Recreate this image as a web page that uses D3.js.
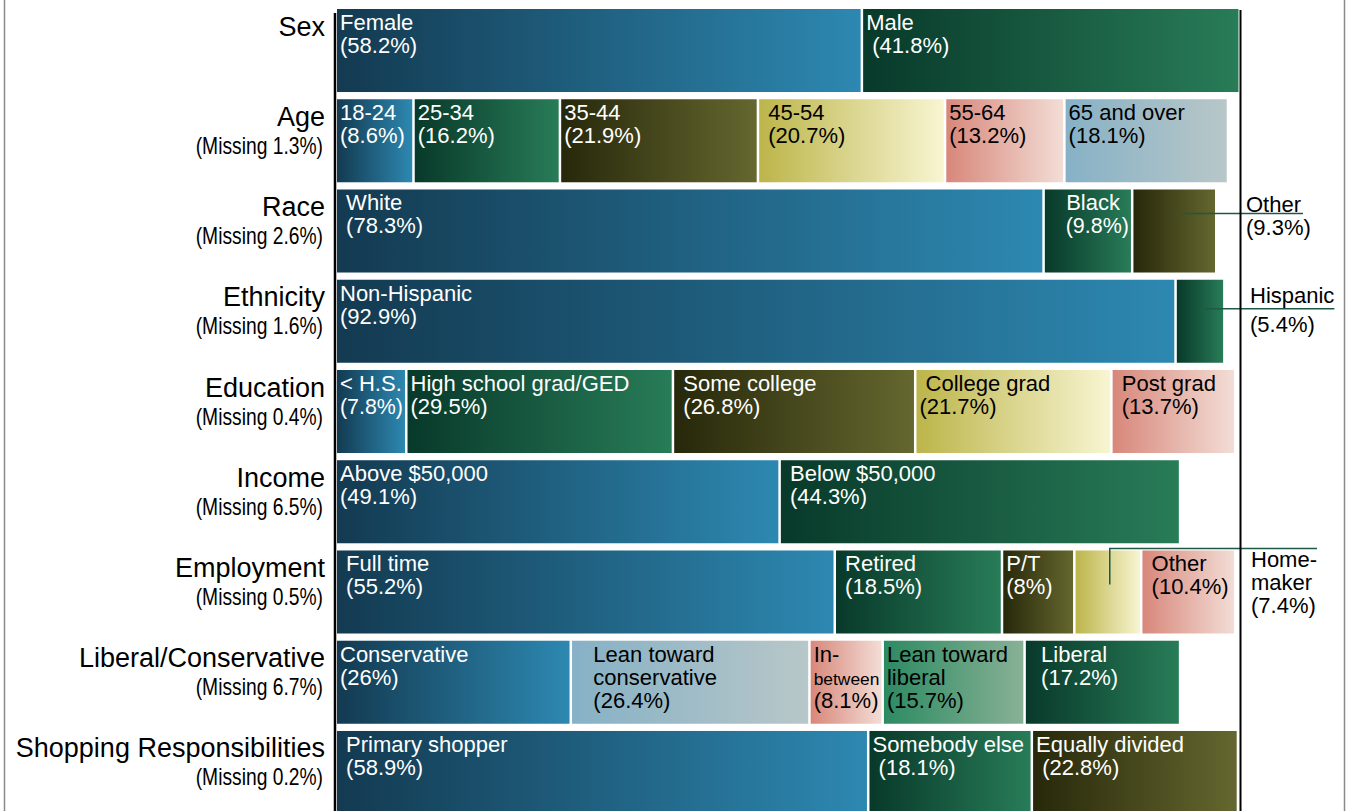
<!DOCTYPE html>
<html>
<head>
<meta charset="utf-8">
<script src="https://cdn.jsdelivr.net/npm/d3@7"></script>
<style>
  html, body { margin: 0; padding: 0; background: #fff; }
  svg { display: block; }
  text { white-space: pre; }
</style>
</head>
<body>
<svg id="chart" width="1348" height="811"></svg>
<script>
// ---------------- DATA ----------------
const categories = ["Sex", "Age", "Race", "Ethnicity", "Education", "Income",
  "Employment", "Liberal/Conservative", "Shopping Responsibilities"];
const missingPct = [null, 1.3, 2.6, 1.6, 0.4, 6.5, 0.5, 6.7, 0.2];

// segment names ("|" separates lines, leading spaces are part of the label text)
const segNames = [
  ["Female", "Male"],
  ["18-24", "25-34", "35-44", " 45-54", "55-64", "65 and over"],
  [" White", "   Black", "Other"],
  ["Non-Hispanic", "Hispanic"],
  ["< H.S.", "High school grad/GED", " Some college", " College grad", " Post grad"],
  ["Above $50,000", " Below $50,000"],
  [" Full time", " Retired", "P/T", "Home-|maker", " Other"],
  ["Conservative", "   Lean toward|   conservative", "In-|between", "Lean toward|liberal", "  Liberal"],
  [" Primary shopper", "Somebody else", "Equally divided"]
];
const segValues = [
  [58.2, 41.8],
  [8.6, 16.2, 21.9, 20.7, 13.2, 18.1],
  [78.3, 9.8, 9.3],
  [92.9, 5.4],
  [7.8, 29.5, 26.8, 21.7, 13.7],
  [49.1, 44.3],
  [55.2, 18.5, 8, 7.4, 10.4],
  [26, 26.4, 8.1, 15.7, 17.2],
  [58.9, 18.1, 22.8]
];
// indentation (in spaces) of the percentage line
const pctIndent = [
  [0, 1],
  [0, 0, 0, 1, 0, 0],
  [1, 3, 0],
  [0, 0],
  [0, 0, 1, 0, 1],
  [0, 1],
  [1, 1, 0, 0, 1],
  [0, 3, 0, 0, 2],
  [1, 1, 1]
];
// labels placed outside the bar with a leader line
const callouts = [
  { row: "Race", seg: "Other", kind: "under" },
  { row: "Ethnicity", seg: "Hispanic", kind: "between" },
  { row: "Employment", seg: "Home-|maker", kind: "elbow" }
];

// ---------------- STYLE ----------------
const palette = {
  B:  ["#133a51", "#2d88b1", "#fff"],
  G:  ["#08392a", "#287c58", "#fff"],
  O:  ["#27280a", "#65672f", "#fff"],
  Y:  ["#bcb54a", "#f8f5d2", "#000"],
  P:  ["#d8877a", "#f2ddd6", "#000"],
  L:  ["#86b1c6", "#b8c7c8", "#000"],
  LG: ["#2c8a62", "#88b196", "#000"]
};
const segFill = [
  ["B", "G"],
  ["B", "G", "O", "Y", "P", "L"],
  ["B", "G", "O"],
  ["B", "G"],
  ["B", "G", "O", "Y", "P"],
  ["B", "G"],
  ["B", "G", "O", "Y", "P"],
  ["B", "L", "P", "LG", "G"],
  ["B", "G", "O"]
];

const FONT = "'Liberation Sans', Arial, Helvetica, sans-serif";
const SEG_FS = 22;

// ---------------- CHART ----------------
const svg = d3.select("#chart");
const W = 1348, H = 811;

const x = d3.scaleLinear().domain([0, 100]).range([336, 1240]);
const y = d3.scaleBand().domain(categories).range([9, 814]).paddingInner(0.08).paddingOuter(0);

// gradients
const defs = svg.append("defs");
Object.entries(palette).forEach(([k, c]) => {
  const g = defs.append("linearGradient").attr("id", "grad-" + k)
    .attr("x1", 0).attr("x2", 1).attr("y1", 0).attr("y2", 0);
  g.append("stop").attr("offset", "0%").attr("stop-color", c[0]);
  g.append("stop").attr("offset", "100%").attr("stop-color", c[1]);
});

// frame
svg.append("line").attr("x1", 4.5).attr("x2", 4.5).attr("y1", 0).attr("y2", H)
  .attr("stroke", "#8a8a8a").attr("stroke-width", 1.5);
svg.append("line").attr("x1", 1344.5).attr("x2", 1344.5).attr("y1", 0).attr("y2", H)
  .attr("stroke", "#8a8a8a").attr("stroke-width", 1.5);

const calloutKey = new Set(callouts.map(c => c.row + "::" + c.seg));

// bars
categories.forEach((cat, i) => {
  const top = y(cat), bh = y.bandwidth();
  let cum = 0;
  const row = svg.append("g").attr("class", "row");
  segValues[i].forEach((v, j) => {
    const s = cum, e = cum + v;
    cum = e;
    const x0 = x(s) + 1, x1 = x(e) - 1.5;
    const key = segFill[i][j];
    row.append("rect")
      .attr("x", x0).attr("y", top)
      .attr("width", Math.max(0, x1 - x0)).attr("height", bh)
      .attr("fill", `url(#grad-${key})`);

    const name = segNames[i][j];
    const isCallout = calloutKey.has(cat + "::" + name);
    const lines = name.split("|");
    lines.push(" ".repeat(pctIndent[i][j]) + "(" + v + "%)");

    if (!isCallout) {
      const t = row.append("text")
        .attr("font-family", FONT).attr("font-size", SEG_FS)
        .attr("fill", palette[key][2]);
      const avail = x1 - x0 - 5;
      lines.forEach((ln, k) => {
        const sp = t.append("tspan").attr("x", x0 + 3).attr("y", top + 21 + k * 23).text(ln);
        const len = sp.node().getComputedTextLength();
        if (len > avail) sp.attr("font-size", SEG_FS * avail / len);
      });
    } else {
      const c = callouts.find(c => c.row === cat && c.seg === name);
      const cx = (x0 + x1) / 2 + 8;
      let lx, base, gap;
      if (c.kind === "under") { lx = x(100) + 6; base = top + 23; gap = 23; }
      else if (c.kind === "between") { lx = x(100) + 10; base = top + 23; gap = 29; }
      else { lx = x(100) + 11; base = top + 17; gap = 23; }
      const t = svg.append("text")
        .attr("font-family", FONT).attr("font-size", SEG_FS).attr("fill", "#000");
      const spans = lines.map((ln, k) =>
        t.append("tspan").attr("x", lx).attr("y", base + k * gap).text(ln));
      const tw = spans[0].node().getComputedTextLength();
      let d;
      if (c.kind === "under") d = `M${cx},${base + 1}H${lx + tw + 2}`;
      else if (c.kind === "between") d = `M${cx - 3},${base + 6}H${lx + tw}`;
      else d = `M${cx - 6},${top + 34}V${top - 2}H${lx + tw}`;
      svg.append("path").attr("d", d).attr("fill", "none")
        .attr("stroke", "#1d5848").attr("stroke-width", 1.5);
    }
  });
});

// left axis (category axis)
const axis = svg.append("g").attr("transform", "translate(335,0)")
  .call(d3.axisLeft(y).tickSize(0).tickFormat(""));
axis.select(".domain").attr("stroke", "#000").attr("stroke-width", 2.5)
  .attr("d", `M0,13V${H}`);

// category labels
categories.forEach((cat, i) => {
  const cy = y(cat) + y.bandwidth() / 2;
  svg.append("text").attr("x", 325).attr("y", cy - 15)
    .attr("text-anchor", "end").attr("font-family", FONT).attr("font-size", 27)
    .attr("fill", "#000").text(cat);
  if (missingPct[i] != null) {
    svg.append("text")
      .attr("transform", `translate(323,${cy + 13}) scale(0.82,1)`)
      .attr("text-anchor", "end").attr("font-family", FONT).attr("font-size", 23.5)
      .attr("fill", "#000").text(`(Missing ${missingPct[i]}%)`);
  }
});

// right boundary line (100%)
svg.append("line").attr("x1", x(100) + 0.5).attr("x2", x(100) + 0.5)
  .attr("y1", 10).attr("y2", H).attr("stroke", "#000").attr("stroke-width", 2);
</script>
</body>
</html>
